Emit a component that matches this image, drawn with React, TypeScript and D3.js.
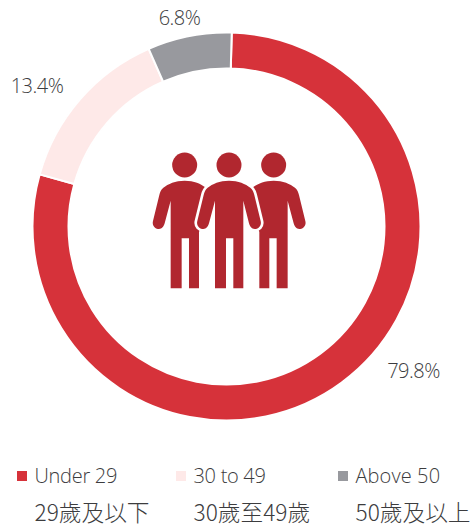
import React from "react";
import * as d3 from "d3";

const categories = ["Under 29", "30 to 49", "Above 50"];
const categoriesZh = ["29歲及以下", "30歲至49歲", "50歲及以上"];
const sliceValues = [78.9, 14.1, 7.0];
const valueLabels = ["79.8%", "13.4%", "6.8%"];
const colors = ["#d6323a", "#fee9e8", "#98999e"];

const W = 471, H = 527, CX = 226.5, CY = 226.5, R = 194, r = 158;
const START = (1.55 * Math.PI) / 180;
const font = "'Open Sans', sans-serif";
const cjk = "'Noto Sans CJK TC', sans-serif";
const textColor = "#3c3c3e";

const labelPos: [number, number][] = [[413.5, 378], [37, 93], [179.5, 25]];
const legendX = [17, 176, 338];
const legendSpacing = [-0.3, -0.3, 0.1];

const LEFT_SIDE = "M0,122 C-28,122 -50,132 -64,143 C-71,149 -74,156 -76,165 L-95,243 C-99,258 -87,267 -77,267 C-68,267 -63,260 -60,250 L-42,182 L-42,445 L-9,445 L-9,295 L13,295 L13,445 L43,445";
const FULL = LEFT_SIDE + " L43,182 L60,250 C63,260 68,267 77,267 C87,267 99,258 95,243 L76,165 C74,156 71,149 64,143 C50,132 28,122 0,122 Z";
const CUT = LEFT_SIDE + " L43,275 L52,262 L62,142 C50,132 28,122 0,122 Z";
const figures = [
  { x: 134, flip: 1, d: CUT, halo: false },
  { x: 401, flip: -1, d: CUT, halo: false },
  { x: 267, flip: 1, d: FULL, halo: true },
];

export default function App() {
  const pie = d3.pie<number>().sort(null).startAngle(START).endAngle(START + 2 * Math.PI);
  const arc = d3.arc<d3.PieArcDatum<number>>().innerRadius(r).outerRadius(R);
  return (
    <svg width={W} height={H} viewBox={`0 0 ${W} ${H}`} style={{ position: "absolute", left: 0, top: 0, background: "#fff" }}>
      <g transform={`translate(${CX},${CY})`}>
        {pie(sliceValues).map((d, i) => (
          <path key={i} d={arc(d) ?? ""} fill={colors[i]} stroke="#fff" strokeWidth={2} />
        ))}
      </g>
      <g transform="translate(140,140) scale(0.3333)">
        {figures.map((f, i) => (
          <g key={i} transform={`translate(${f.x},0) scale(${f.flip},1)`}>
            <circle cx={0} cy={75} r={37.5} fill="#b1272f" />
            <path d={f.d} fill="#b1272f" stroke={f.halo ? "#fff" : "none"} strokeWidth={f.halo ? 16 : 0} paintOrder="stroke" />
          </g>
        ))}
      </g>
      {valueLabels.map((t, i) => (
        <text key={t} x={labelPos[i][0]} y={labelPos[i][1]} textAnchor="middle" fontFamily={font} fontWeight={300} fontSize={20} letterSpacing={-0.5} fill={textColor}>{t}</text>
      ))}
      {categories.map((c, i) => (
        <g key={c}>
          <rect x={legendX[i]} y={471} width={10} height={10} fill={colors[i]} />
          <text x={legendX[i] + 17.5} y={483} fontFamily={font} fontWeight={300} fontSize={20} letterSpacing={legendSpacing[i]} fill={textColor}>{c}</text>
          <text x={legendX[i] + 17.5} y={520.5} fontFamily={cjk} fontWeight={300} fontSize={22.7} fill={textColor}>{categoriesZh[i]}</text>
        </g>
      ))}
    </svg>
  );
}
